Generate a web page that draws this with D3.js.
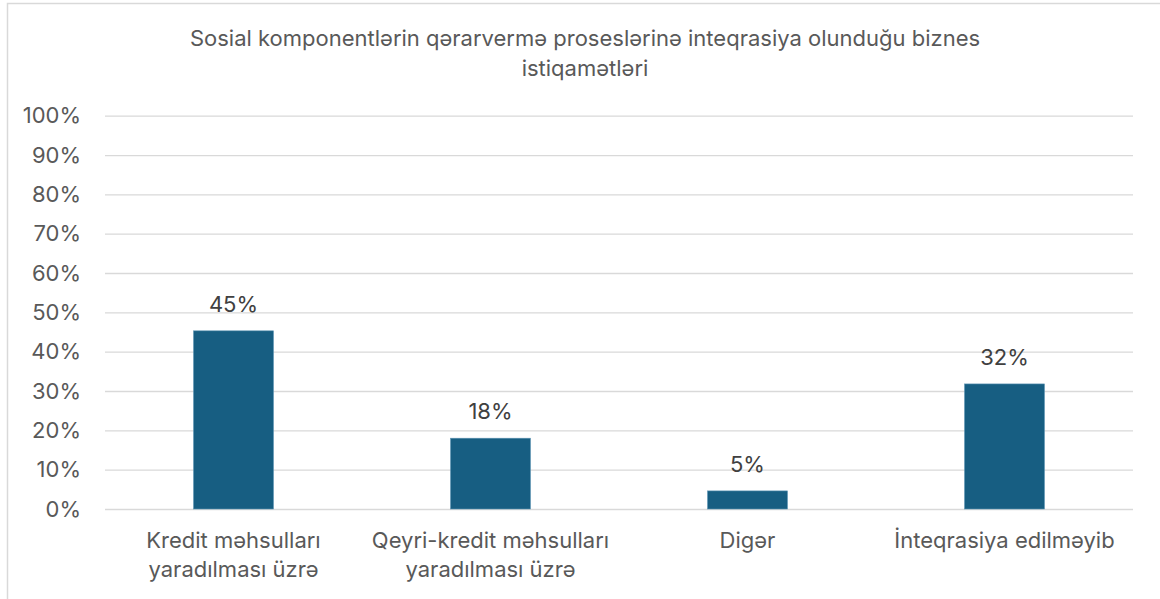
<!DOCTYPE html>
<html>
<head>
<meta charset="utf-8">
<script src="https://cdn.jsdelivr.net/npm/d3@7"></script>
<style>
  body { margin: 0; background: #fff; }
  svg { display: block; font-family: Inter, "Open Sans", sans-serif; }
</style>
</head>
<body>
<script>
    //chart data
    var categories = [
        ["Kredit məhsulları", "yaradılması üzrə"],
        ["Qeyri-kredit məhsulları", "yaradılması üzrə"],
        ["Digər"],
        ["İnteqrasiya edilməyib"]
    ];
    var values = [0.453, 0.180, 0.046, 0.318];
    var yTicks = [0, 0.1, 0.2, 0.3, 0.4, 0.5, 0.6, 0.7, 0.8, 0.9, 1.0];
    var titleLines = ["Sosial komponentlərin qərarvermə proseslərinə inteqrasiya olunduğu biznes", "istiqamətləri"];

    var width = 1160,
        height = 599;
    var plot = {left: 105, right: 1133, top: 115.7, bottom: 509};
    var fontSize = "22px";

    var svg = d3.select("body")
        .append("svg")
        .attr("width", width)
        .attr("height", height);

    //chart frame border
    svg.append("rect")
        .attr("x", 7.5)
        .attr("y", 3.5)
        .attr("width", 1170)
        .attr("height", 620)
        .attr("fill", "#fff")
        .attr("stroke", "#d9d9d9")
        .attr("stroke-width", 1.5);

    var x = d3.scaleBand()
        .domain(d3.range(categories.length))
        .range([plot.left, plot.right])
        .paddingInner(0.689)
        .paddingOuter(0.689 / 2);

    var y = d3.scaleLinear()
        .domain([0, 1])
        .range([plot.bottom, plot.top]);

    //gridlines and tick labels
    var yAxis = d3.axisLeft(y)
        .tickValues(yTicks)
        .tickSize(-(plot.right - plot.left))
        .tickPadding(24)
        .tickFormat(d3.format(".0%"));

    var gy = svg.append("g")
        .attr("transform", "translate(" + plot.left + ",0)")
        .call(yAxis);
    gy.select(".domain").remove();
    gy.selectAll(".tick line")
        .attr("stroke", "#d9d9d9")
        .attr("stroke-width", 1.3);
    gy.selectAll(".tick text")
        .attr("fill", "#595959")
        .style("font-size", fontSize)
        .style("font-family", "Inter, 'Open Sans', sans-serif");

    //bars
    svg.selectAll(".bar")
        .data(values)
        .enter()
        .append("rect")
        .attr("class", "bar")
        .attr("x", function(d, i){ return x(i); })
        .attr("width", x.bandwidth())
        .attr("y", function(d){ return y(d); })
        .attr("height", function(d){ return y(0) - y(d); })
        .attr("fill", "#175e82")
        .attr("stroke", "#5b93b3")
        .attr("stroke-width", 0.6);

    //value labels
    svg.selectAll(".numbers")
        .data(values)
        .enter()
        .append("text")
        .attr("class", "numbers")
        .attr("text-anchor", "middle")
        .attr("x", function(d, i){ return x(i) + x.bandwidth() / 2; })
        .attr("y", function(d){ return y(d) - 19; })
        .attr("fill", "#404040")
        .style("font-size", fontSize)
        .text(function(d){ return d3.format(".0%")(d); });

    //category labels
    var cats = svg.selectAll(".cat")
        .data(categories)
        .enter()
        .append("text")
        .attr("class", "cat")
        .attr("text-anchor", "middle")
        .attr("fill", "#595959")
        .style("font-size", fontSize);
    cats.selectAll("tspan")
        .data(function(d, i){ return d.map(function(t){ return {t: t, i: i}; }); })
        .enter()
        .append("tspan")
        .attr("x", function(d){ return x(d.i) + x.bandwidth() / 2; })
        .attr("y", function(d, j){ return 548 + j * 28.5; })
        .text(function(d){ return d.t; });

    //chart title
    svg.append("text")
        .attr("text-anchor", "middle")
        .attr("fill", "#595959")
        .style("font-size", fontSize)
        .selectAll("tspan")
        .data(titleLines)
        .enter()
        .append("tspan")
        .attr("x", 585)
        .attr("y", function(d, i){ return 46 + i * 30; })
        .text(function(d){ return d; });
</script>
</body>
</html>
